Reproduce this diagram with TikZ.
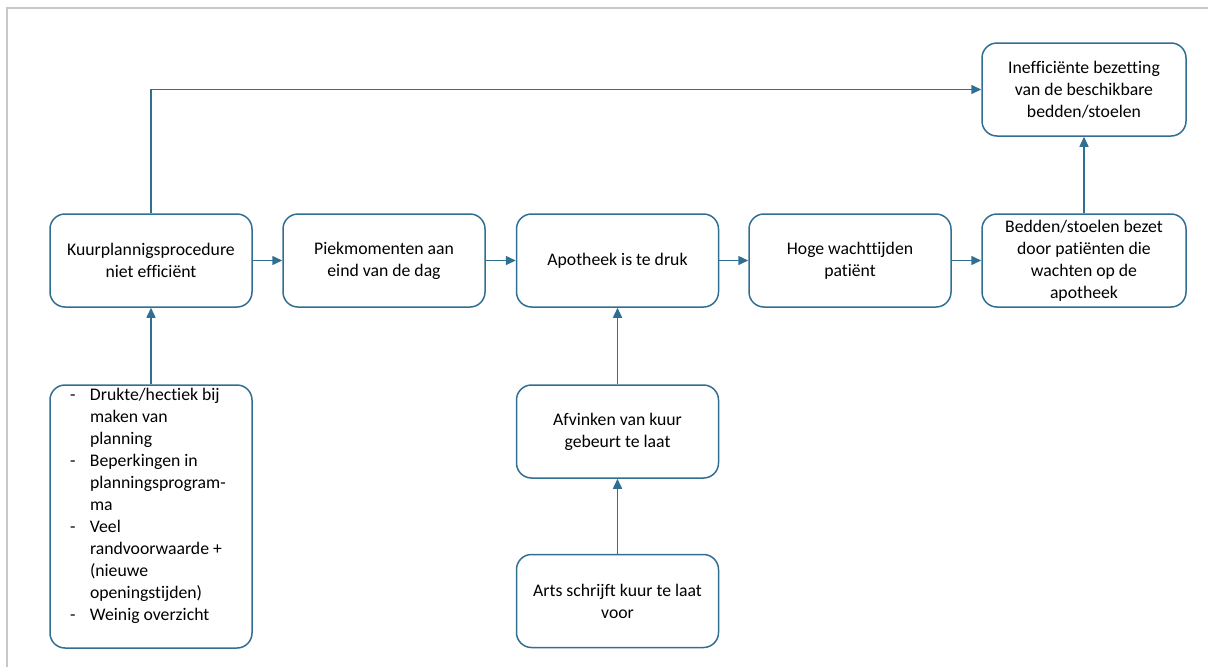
\documentclass[tikz,border=0pt]{standalone}
\usepackage{fontspec}
\setmainfont[Ligatures={NoCommon,NoRare,NoContextual}]{Carlito}
\usepackage{tikz}
\usetikzlibrary{arrows.meta,positioning}
\definecolor{vakblauw}{RGB}{49,111,146}
\definecolor{randgrijs}{RGB}{200,200,200}
\tikzset{
	vak/.style={draw=vakblauw, line width=1.5pt, rounded corners=15pt, minimum width=202pt, minimum height=93pt, inner sep=0pt, align=center, font=\fontsize{17.7}{22}\selectfont},
	pijl/.style={draw=vakblauw, line width=1.5pt, -{Triangle[length=10pt,width=9pt]}},
}

\begin{document}
\begin{tikzpicture}[x=1pt, y=-1pt]
	\useasboundingbox (0,0) rectangle (1208,667);
	\draw [randgrijs, line width=2pt] (7,667) -- (7,8) -- (1208,8);
	% bovenste rij
	\node [vak] (A) at (151,260.5) {Kuurplannigsprocedure\\niet efficiënt};
	\node [vak] (B) at (384,260.5) {Piekmomenten aan\\eind van de dag};
	\node [vak] (C) at (617.5,260.5) {Apotheek is te druk};
	\node [vak] (D) at (850,260.5) {Hoge wachttijden\\patiënt};
	\node [vak, minimum width=204pt] (E) at (1084,260.5) {Bedden/stoelen bezet\\door patiënten die\\wachten op de\\apotheek};
	\node [vak, minimum width=204pt] (F) at (1084,89.5) {Inefficiënte bezetting\\van de beschikbare\\bedden/stoelen};
	% oorzaken onder
	\node [vak] (G) at (151,516.5) {\begin{minipage}[c][263pt][t]{202pt}
		\hspace*{20pt}\begin{tabular}[t]{@{}p{20pt}@{}l@{}}
			-&Drukte/hectiek bij\\
			&maken van\\
			&planning\\
			-&Beperkingen in\\
			&planningsprogram-\\
			&ma\\
			-&Veel\\
			&randvoorwaarde +\\
			&(nieuwe\\
			&openingstijden)\\
			-&Weinig overzicht
		\end{tabular}
	\end{minipage}};
	\node [vak] (H) at (617.5,431.5) {Afvinken van kuur\\gebeurt te laat};
	\node [vak] (I) at (617.5,601) {Arts schrijft kuur te laat\\voor};
	% pijlen
	\draw [pijl] (A) -- (B);
	\draw [pijl] (B) -- (C);
	\draw [pijl] (C) -- (D);
	\draw [pijl] (D) -- (E);
	\draw [pijl] (E) -- (F);
	\draw [pijl] (A.north) |- (F.west);
	\draw [pijl] (G) -- (A);
	\draw [pijl] (H) -- (C);
	\draw [pijl] (I) -- (H);
\end{tikzpicture}
\end{document}
